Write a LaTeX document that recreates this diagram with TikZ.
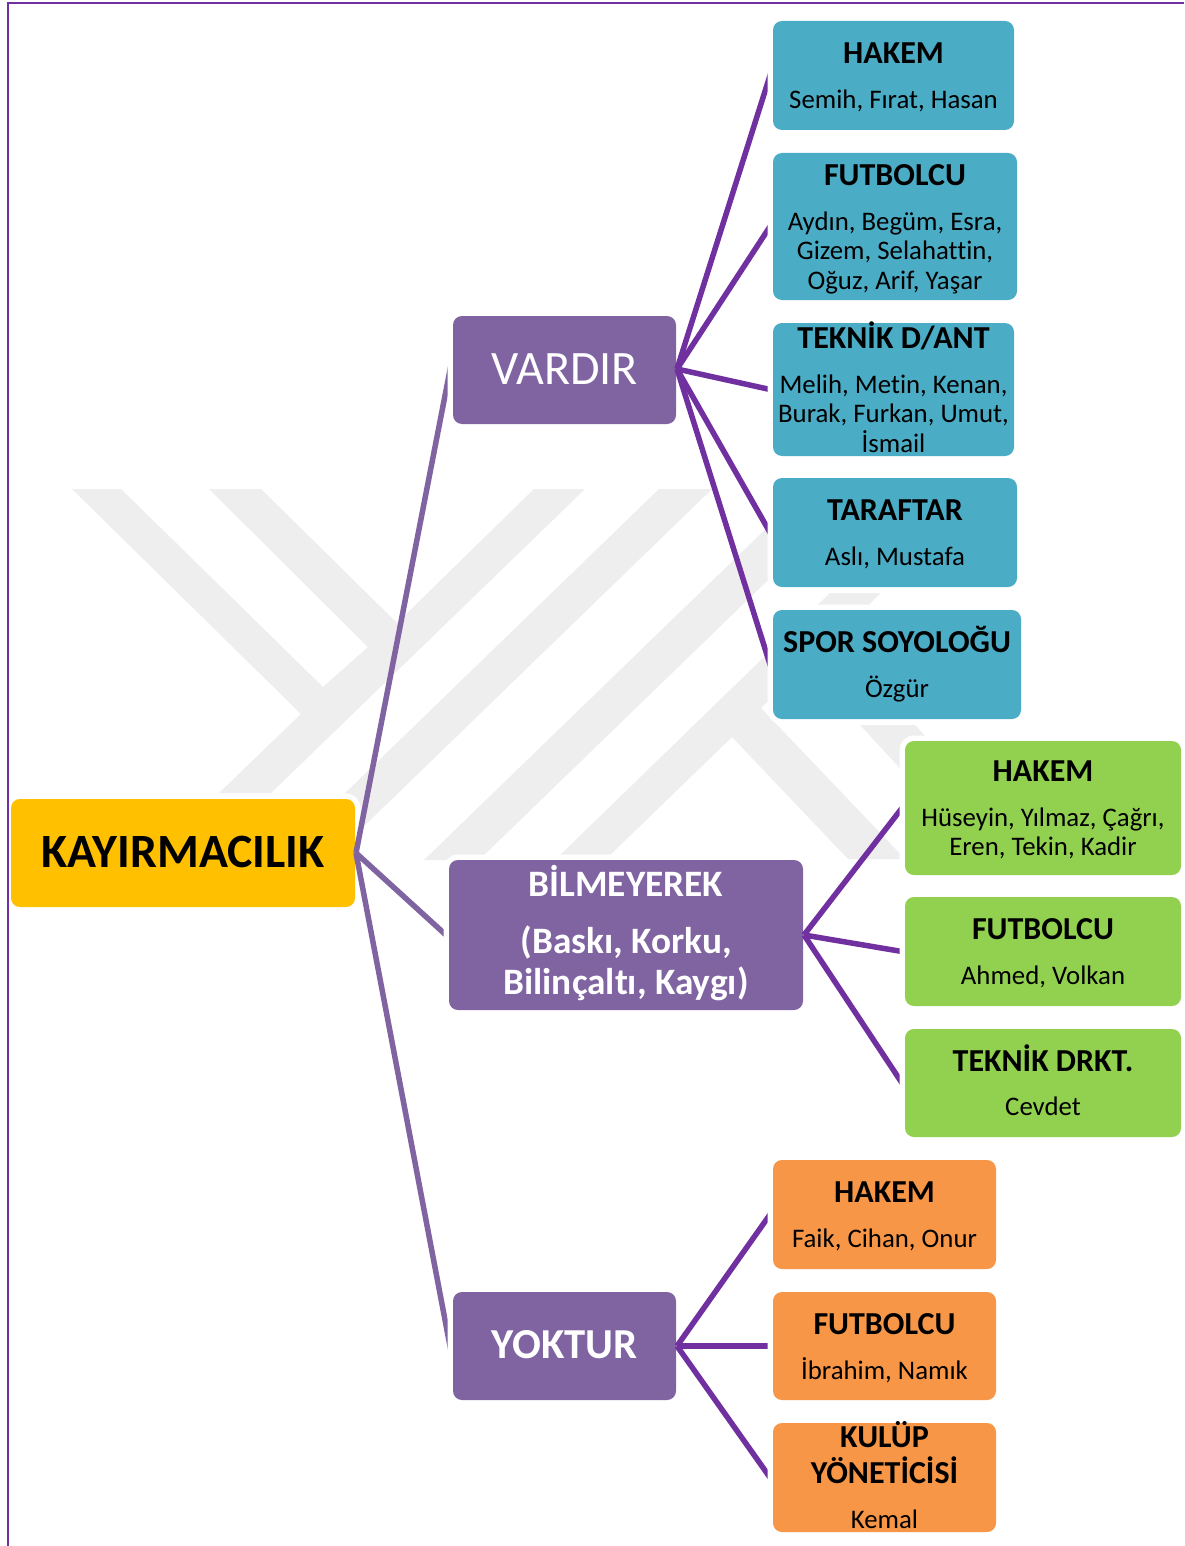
\documentclass[tikz,border=0pt]{standalone}
\usepackage{fontspec}
\setmainfont{Carlito}[Ligatures=NoCommon]
\usetikzlibrary{calc}
\pgfdeclarelayer{mark}
\pgfdeclarelayer{rootlayer}
\pgfdeclarelayer{rootlines}
\pgfdeclarelayer{midlayer}
\pgfdeclarelayer{midlines}
\pgfsetlayers{mark,rootlayer,rootlines,midlayer,midlines,main}
\definecolor{wmark}{HTML}{EEEEEE}
\definecolor{rootc}{HTML}{FFC000}
\definecolor{midc}{HTML}{8064A2}
\definecolor{tealc}{HTML}{4BACC6}
\definecolor{greenc}{HTML}{92D050}
\definecolor{orangec}{HTML}{F79646}
\definecolor{linec}{HTML}{7030A0}
\newcommand{\placed}[2]{\raisebox{#1pt}[0pt][0pt]{\begin{tabular}[t]{@{}c@{}}#2\end{tabular}}}
\newcommand{\ttl}[1]{\smash{\fontsize{32}{32}\selectfont\bfseries #1}}
\newcommand{\btl}[1]{\smash{\fontsize{37.3}{37}\selectfont\bfseries #1}}
\tikzset{
  box/.style={rectangle,rounded corners=9pt,inner sep=0pt,outer sep=0pt,anchor=center,
    preaction={draw=white,line width=11pt},
    font=\fontsize{26.8}{29.5}\selectfont,text=black},
  rootbox/.style={box,fill=rootc},
  midbox/.style={box,fill=midc,text=white},
  tealbox/.style={box,fill=tealc},
  greenbox/.style={box,fill=greenc},
  orangebox/.style={box,fill=orangec},
  rootline/.style={draw=midc,line width=5.5pt,shorten >=-9pt},
  leafline/.style={draw=linec,line width=5.5pt,shorten >=-9pt},
  frameline/.style={draw=linec,line width=2pt},
}
\begin{document}
\begin{tikzpicture}[x=1pt,y=-1pt]
\useasboundingbox (0,0) rectangle (1184,1546);
\begin{pgfonlayer}{mark}
\fill[white] (0,0) rectangle (1184,1546);
\fill[wmark] (72,489)--(301,714)--(219,793)--(271,793)--(585,489)--(534,489)--(397,623)--(261,489)--(209,489)--(368,647)--(323,687)--(121,489)--cycle;
\fill[wmark] (659,489)--(712,489)--(329,860)--(276,860)--cycle;
\fill[wmark] (807,489)--(862,489)--(479,860)--(424,860)--cycle;
\fill[wmark] (556,859)--(830,593)--(881,593)--(761,708)--(905,859)--(848,859)--(732,737)--(606,859)--cycle;
\fill[wmark] (860,725)--(915,725)--(1040,860)--(985,860)--cycle;
\end{pgfonlayer}
\begin{pgfonlayer}{rootlayer}
\node[rootbox,minimum width=344pt,minimum height=108pt] (root) at (183,853)
  {\placed{-14.4}{\fontsize{47.8}{47}\selectfont\bfseries KAYIRMACILIK}};
\end{pgfonlayer}
\begin{pgfonlayer}{midlayer}
\node[midbox,minimum width=223pt,minimum height=108pt] (vardir) at (564.5,370)
  {\placed{-14.5}{\fontsize{48}{48}\selectfont VARDIR}};
\node[midbox,minimum width=354pt,minimum height=150pt] (bilmeyerek) at (626,935)
  {\placed{39}{\btl{BİLMEYEREK}\\[27.5pt]\btl{(Baskı, Korku,}\\[11.5pt]\btl{Bilinçaltı, Kaygı)}}};
\node[midbox,minimum width=223pt,minimum height=108pt] (yoktur) at (564.5,1346)
  {\placed{-12.7}{\fontsize{42.7}{42}\selectfont\bfseries YOKTUR}};
\end{pgfonlayer}
\begin{pgfonlayer}{rootlines}
\draw[frameline] (8,1546)--(8,3)--(1184,3);
\draw[rootline] ($(root.east)+(1,0)$) -- ($(vardir.west)+(-3,0)$);
\draw[rootline] ($(root.east)+(1,0)$) -- ($(bilmeyerek.west)+(-3,0)$);
\draw[rootline] ($(root.east)+(1,0)$) -- ($(yoktur.west)+(-3,0)$);
\end{pgfonlayer}
\node[tealbox,minimum width=241pt,minimum height=109pt] (t1) at (893.5,75.5)
  {\placed{12.2}{\ttl{HAKEM}\\[16pt]Semih, Fırat, Hasan}};
\node[tealbox,minimum width=244pt,minimum height=147pt] (t2) at (895,226.5)
  {\placed{40.7}{\ttl{FUTBOLCU}\\[15pt]Aydın, Begüm, Esra,\\Gizem, Selahattin,\\Oğuz, Arif, Yaşar}};
\node[tealbox,minimum width=241pt,minimum height=133pt] (t3) at (893.5,389.5)
  {\placed{41.3}{\ttl{TEKNİK D/ANT}\\[15.5pt]Melih, Metin, Kenan,\\Burak, Furkan, Umut,\\\smash{İsmail}}};
\node[tealbox,minimum width=244pt,minimum height=109pt] (t4) at (895,532.5)
  {\placed{12.2}{\ttl{TARAFTAR}\\[16pt]Aslı, Mustafa}};
\node[tealbox,minimum width=248pt,minimum height=109pt] (t5) at (897,664.5)
  {\placed{12.2}{\ttl{SPOR SOYOLOĞU}\\[16pt]\smash{Özgür}}};
\node[greenbox,minimum width=276pt,minimum height=134pt] (g1) at (1043,808)
  {\placed{26.2}{\ttl{HAKEM}\\[15pt]\smash{Hüseyin, Yılmaz, Çağrı,}\\Eren, Tekin, Kadir}};
\node[greenbox,minimum width=276pt,minimum height=109pt] (g2) at (1043,951.5)
  {\placed{11.7}{\ttl{FUTBOLCU}\\[15.5pt]Ahmed, Volkan}};
\node[greenbox,minimum width=276pt,minimum height=108pt] (g3) at (1043,1083)
  {\placed{12}{\ttl{TEKNİK DRKT.}\\[15pt]Cevdet}};
\node[orangebox,minimum width=223pt,minimum height=109pt] (o1) at (884.5,1214.5)
  {\placed{12.3}{\ttl{HAKEM}\\[15.5pt]Faik, Cihan, Onur}};
\node[orangebox,minimum width=223pt,minimum height=108pt] (o2) at (884.5,1346)
  {\placed{12}{\ttl{FUTBOLCU}\\[15.5pt]\smash{İbrahim, Namık}}};
\node[orangebox,minimum width=223pt,minimum height=109pt] (o3) at (884.5,1477.5)
  {\placed{29.7}{\ttl{KULÜP}\\[6pt]\ttl{YÖNETİCİSİ}\\[15.5pt]Kemal}};
\begin{pgfonlayer}{midlines}
\foreach \k in {t1,t2,t3,t4,t5} \draw[leafline] ($(vardir.east)+(1,-1)$) -- ($(\k.west)+(-3,0)$);
\foreach \k in {g1,g2,g3} \draw[leafline] ($(bilmeyerek.east)+(1,0)$) -- ($(\k.west)+(-3,0)$);
\foreach \k in {o1,o2,o3} \draw[leafline] ($(yoktur.east)+(1,0)$) -- ($(\k.west)+(-3,0)$);
\end{pgfonlayer}
\end{tikzpicture}
\end{document}
